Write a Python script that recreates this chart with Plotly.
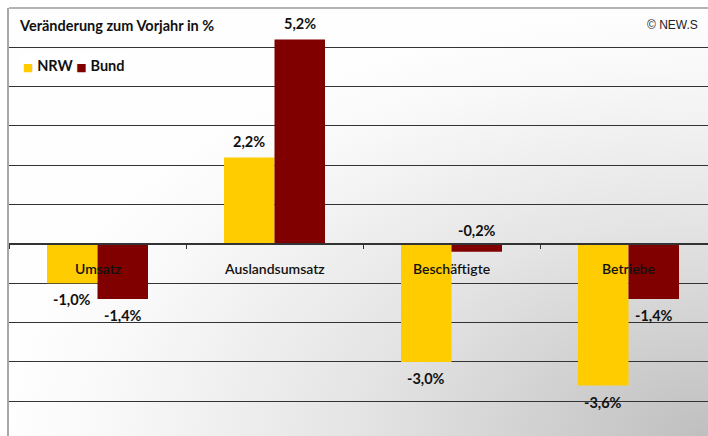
import base64
import plotly.graph_objects as go

categories = ["Umsatz", "Auslandsumsatz", "Beschäftigte", "Betriebe"]
nrw_values = [-1.0, 2.2, -3.0, -3.6]
bund_values = [-1.4, 5.2, -0.2, -1.4]
series_names = ["NRW", "Bund"]
series_colors = ["#FFCC00", "#800000"]
title_text = "Veränderung zum Vorjahr in %"
source_text = "© NEW.S"

W, H = 708, 436
ML, MR, MT, MB = 9, 0, 8, 0
plot_w = W - ML - MR
plot_h = H - MT - MB
cat_px = 177.0
unit_px = 39.33
y_max = 6.0
y_min = y_max - plot_h / unit_px
x_range = [-0.5, -0.5 + plot_w / cat_px]
bar_px = 50.5

FONT = "Lato, 'Noto Sans', 'DejaVu Sans', sans-serif"


def fmt(v):
    return ("%.1f" % v).replace(".", ",") + "%"


svg = (
    "<svg xmlns='http://www.w3.org/2000/svg' width='700' height='428' preserveAspectRatio='none'>"
    "<defs><radialGradient id='g' cx='1' cy='1' r='1' fx='1' fy='1'>"
    "<stop offset='0' stop-color='#bfbfbf'/>"
    "<stop offset='0.5' stop-color='#e4e4e4'/>"
    "<stop offset='0.85' stop-color='#f8f8f8'/>"
    "<stop offset='1' stop-color='#fefefe'/>"
    "</radialGradient></defs>"
    "<rect x='0' y='0' width='700' height='428' fill='url(#g)'/></svg>"
)
svg_uri = "data:image/svg+xml;base64," + base64.b64encode(svg.encode()).decode()

fig = go.Figure()
for name, vals, col in zip(series_names, [nrw_values, bund_values], series_colors):
    fig.add_trace(go.Bar(x=categories, y=vals, name=name, marker=dict(color=col, line=dict(width=0)),
                         showlegend=False, hoverinfo="x+y"))

VAL_FONT = dict(family=FONT, size=14.5, color="#111")
annotations = []
# value labels
for offset, vals in zip([-bar_px / 2, bar_px / 2], [nrw_values, bund_values]):
    for c, v in zip(categories, vals):
        if v >= 0:
            annotations.append(dict(x=c, y=v, xref="x", yref="y", text="<b>" + fmt(v) + "</b>",
                                    showarrow=False, xshift=offset, yshift=5, yanchor="bottom",
                                    font=VAL_FONT))
        elif v > -0.5:
            annotations.append(dict(x=c, y=0, xref="x", yref="y", text="<b>" + fmt(v) + "</b>",
                                    showarrow=False, xshift=offset, yshift=3, yanchor="bottom",
                                    font=VAL_FONT))
        else:
            annotations.append(dict(x=c, y=v, xref="x", yref="y", text="<b>" + fmt(v) + "</b>",
                                    showarrow=False, xshift=offset, yshift=-6, yanchor="top",
                                    font=VAL_FONT))
# category labels
for c in categories:
    annotations.append(dict(x=c, y=0, xref="x", yref="y", text=c, showarrow=False,
                            yanchor="top", yshift=-14,
                            font=dict(family=FONT, size=14, color="#111", weight=600)))
# title
annotations.append(dict(x=(17 - ML) / plot_w, y=(H - 26 - MB) / plot_h, xref="paper", yref="paper",
                        text="<b>" + title_text + "</b>", showarrow=False, xanchor="left", yanchor="middle",
                        font=dict(family=FONT, size=14.5, color="#111")))
# copyright
annotations.append(dict(x=(700 - ML) / plot_w, y=(H - 25 - MB) / plot_h, xref="paper", yref="paper",
                        text=source_text, showarrow=False, xanchor="right", yanchor="middle",
                        font=dict(family="'Liberation Sans', Arial, sans-serif", size=12, color="#222")))
# legend
legend_txt = ("<span style='color:%s;font-size:11px'>■</span> <b>%s</b> "
              "<span style='color:%s;font-size:11px'>■</span> <b>%s</b>"
              % (series_colors[0], series_names[0], series_colors[1], series_names[1]))
annotations.append(dict(x=(19 - ML) / plot_w, y=(H - 66 - MB) / plot_h, xref="paper", yref="paper",
                        text=legend_txt, showarrow=False, xanchor="left", yanchor="middle",
                        bgcolor="white", borderpad=3,
                        font=dict(family=FONT, size=14.5, color="#111")))

fig.update_layout(
    width=W, height=H,
    margin=dict(l=ML, r=MR, t=MT, b=MB, pad=0),
    paper_bgcolor="white",
    plot_bgcolor="rgba(0,0,0,0)",
    barmode="group", bargap=1 - 2 * bar_px / cat_px, bargroupgap=0,
    font=dict(family=FONT, size=13.5, color="#111"),
    annotations=annotations,
    images=[dict(source=svg_uri, xref="paper", yref="paper", x=0, y=1, sizex=1, sizey=1,
                 sizing="stretch", xanchor="left", yanchor="top", layer="below")],
    shapes=[dict(type="line", xref="paper", yref="paper", x0=0, x1=1, y0=1, y1=1,
                 line=dict(color="#9a9a9a", width=1.5))],
    xaxis=dict(range=x_range, anchor="free", position=(0 - y_min) / (y_max - y_min),
               showline=True, linecolor="#333", linewidth=1.5,
               ticks="outside", tickson="boundaries", ticklen=4, tickcolor="#333", tickwidth=1,
               showticklabels=False, showgrid=False, fixedrange=True),
    yaxis=dict(range=[y_min, y_max], dtick=1, tick0=0, showgrid=True, gridcolor="#333", gridwidth=1.2,
               zeroline=False, showticklabels=False, ticks="",
               showline=True, linecolor="#a8a8a8", linewidth=2, fixedrange=True),
)

fig.write_html("out.html", config={"displayModeBar": False},
               post_script="document.body.style.margin='0';document.body.style.overflow='hidden';")
